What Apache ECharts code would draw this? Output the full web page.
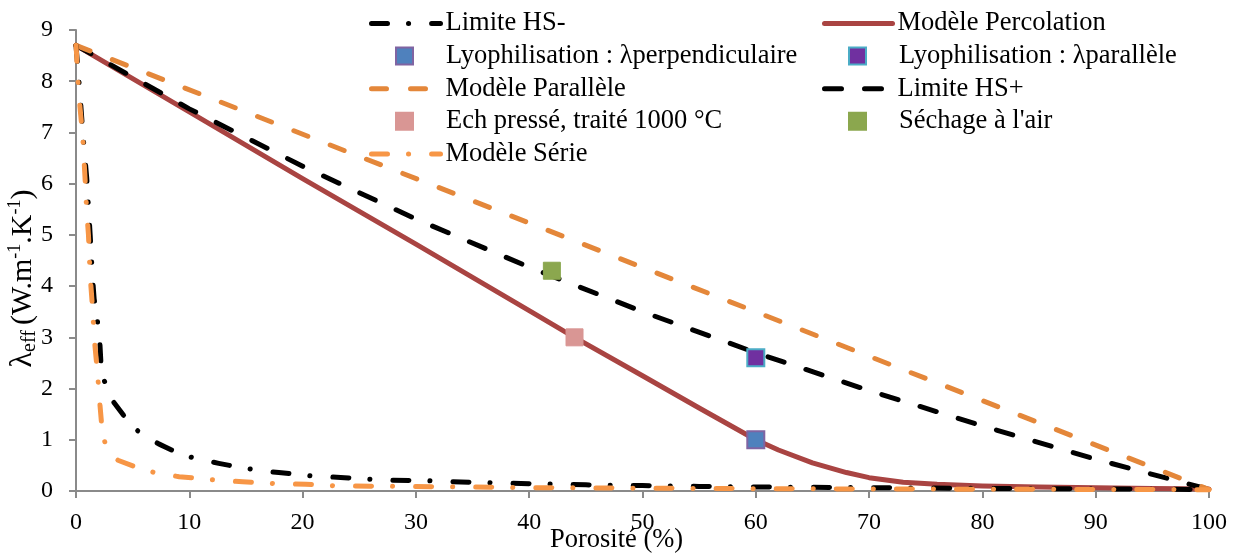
<!DOCTYPE html>
<html><head><meta charset="utf-8">
<script src="https://cdn.jsdelivr.net/npm/echarts@6/dist/echarts.min.js"></script>
<style>html,body{margin:0;padding:0;background:#fff}#c{width:1240px;height:554px}</style>
</head><body><div id="c"></div>
<script>
// ---- data ----
const xTickLabels = [0,10,20,30,40,50,60,70,80,90,100];
const yTickLabels = [0,1,2,3,4,5,6,7,8,9];

const limiteHSMoins = [[0,8.7],[0.3,7.9],[0.6,7.0],[0.95,6.1],[1.25,5.0],[1.45,4.2],[1.6,3.75],[1.85,3.4],[2.09,2.96],[2.2,2.5],[2.5,2.15],[3.24,1.76],[4.5,1.39],[5.6,1.14],[7.3,0.92],[9,0.74],[10.6,0.63],[12.6,0.54],[14.5,0.46],[16.2,0.4],[17.9,0.36],[21,0.29],[23.7,0.26],[27.4,0.21],[31,0.2],[35,0.17],[40.6,0.14],[45,0.12],[50,0.105],[55,0.09],[60,0.08],[70,0.065],[80,0.05],[90,0.04],[100,0.03]];
const modeleSerie = [[0,8.7],[0.06,8.5],[0.1,8.2],[0.2,7.93],[0.35,7.5],[0.6,6.9],[0.8,6.1],[0.95,5.45],[1.1,5.0],[1.25,4.2],[1.45,3.6],[1.62,2.96],[1.9,2.3],[2.1,1.72],[2.3,1.2],[2.6,0.9],[3.0,0.75],[3.7,0.6],[5.5,0.45],[7.1,0.35],[9.1,0.28],[12,0.22],[14.7,0.18],[17.5,0.145],[20.3,0.13],[23,0.1],[26,0.095],[31.5,0.085],[40,0.065],[50,0.055],[60,0.045],[70,0.04],[80,0.035],[90,0.03],[100,0.026]];
const modeleParallele = [[0,8.7],[100,0.03]];
const limiteHSPlus = [[0,8.7],[10,7.46],[20,6.34],[30,5.31],[40,4.37],[50,3.5],[60,2.7],[70,1.96],[80,1.27],[90,0.62],[100,0.03]];
const modelePercolation = [[0,8.7],[10,7.4],[20,6.1],[30,4.82],[40,3.52],[44,3.0],[50,2.25],[55,1.62],[60,1.0],[62,0.8],[65,0.55],[68,0.36],[70,0.26],[73,0.17],[76,0.13],[80,0.1],[85,0.08],[90,0.065],[95,0.05],[100,0.04]];
const lyoPerpendiculaire = [[60,1.0]];
const lyoParallele = [[60,2.6]];
const echPresse = [[44,3.0]];
const sechageAir = [[42,4.3]];

const FONT = '"Liberation Serif", "Times New Roman", serif';
const axisColor = '#8a8a8a';

const chart = echarts.init(document.getElementById('c'), null, {renderer:'canvas'});

function lineSeries(name, data, color, dash, z){
  return {type:'line', name, data, symbol:'none', showSymbol:false, z,
    lineStyle:{color, width:5, type:dash, cap:'round', join:'round'},
    itemStyle:{color}, emphasis:{disabled:true}};
}
function sq(name, data, fill, border, bw){
  return {type:'scatter', name, data, symbol:'rect', symbolSize:17, z:10,
    itemStyle:{color:fill, borderColor:border, borderWidth:bw, opacity:1}, emphasis:{disabled:true}};
}
const legText = {fontFamily:FONT, fontSize:26.5, lineHeight:27, color:'#000'};
const legTextSq = Object.assign({}, legText, {padding:[0,0,0,28]});
const rowGap = 32.6;
const top0 = 10;
const lineLegendExtra = {itemStyle:{opacity:0}, lineStyle:{width:5, cap:'round'}};

chart.setOption({
  animation:false,
  backgroundColor:'#fff',
  grid:{left:76, right:31, top:30, bottom:63, containLabel:false, outerBoundsMode:'none'},
  xAxis:{type:'value', min:0, max:100, interval:10,
    axisLine:{lineStyle:{color:axisColor, width:2}},
    axisTick:{length:7, lineStyle:{color:axisColor, width:2}},
    axisLabel:{fontFamily:FONT, fontSize:24, color:'#000', margin:20,
      formatter:v=>xTickLabels.includes(v)?String(v):''},
    splitLine:{show:false},
    name:'Porosité (%)', nameLocation:'middle', nameGap:36, nameMoveOverlap:false,
    nameTextStyle:{fontFamily:FONT, fontSize:26.5, color:'#000', padding:[0,52,0,0]}},
  yAxis:{type:'value', min:0, max:9, interval:1,
    axisLine:{show:true, lineStyle:{color:axisColor, width:2}},
    axisTick:{show:true, length:7, lineStyle:{color:axisColor, width:2}},
    axisLabel:{fontFamily:FONT, fontSize:24, color:'#000', margin:23,
      formatter:v=>yTickLabels.includes(v)?String(v):''},
    splitLine:{show:false},
    name:'{l|λ}{s|eff }{n|(W.m}{p|-1}{n|.K}{p|-1}{n|)}', nameLocation:'middle', nameRotate:90, nameGap:36, nameMoveOverlap:false,
    nameTextStyle:{fontFamily:FONT, fontSize:30, color:'#000', padding:[0,36,0,0],
      rich:{
        l:{fontFamily:FONT, fontSize:32, color:'#000', lineHeight:34},
        s:{fontFamily:FONT, fontSize:20, color:'#000', lineHeight:34, verticalAlign:'bottom'},
        n:{fontFamily:FONT, fontSize:30, color:'#000', lineHeight:34},
        p:{fontFamily:FONT, fontSize:18, color:'#000', lineHeight:34, verticalAlign:'top'}
      }}},
  legend:[
    Object.assign({orient:'vertical', left:369, top:top0, padding:0, itemWidth:69, itemHeight:14, itemGap:2*rowGap-27,
      selectedMode:false, textStyle:legText, data:['Limite HS-','Modèle Parallèle','Modèle Série']}, lineLegendExtra),
    {orient:'vertical', left:395, top:top0+rowGap, padding:0, itemWidth:17, itemHeight:17, itemGap:2*rowGap-27,
      selectedMode:false, textStyle:legTextSq, data:['Lyophilisation : λperpendiculaire','Ech pressé, traité 1000 °C']},
    Object.assign({orient:'vertical', left:822, top:top0, padding:0, itemWidth:68, itemHeight:14, itemGap:2*rowGap-27,
      selectedMode:false, textStyle:legText, data:['Modèle Percolation','Limite HS+']}, lineLegendExtra),
    {orient:'vertical', left:848, top:top0+rowGap, padding:0, itemWidth:17, itemHeight:17, itemGap:2*rowGap-27,
      selectedMode:false, textStyle:legTextSq, data:['Lyophilisation : λparallèle',"Séchage à l'air"]}
  ],
  series:[
    lineSeries('Modèle Percolation', modelePercolation, '#A94442', 'solid', 2),
    lineSeries('Limite HS+', limiteHSPlus, '#000000', [17,23], 3),
    lineSeries('Modèle Parallèle', modeleParallele, '#E4873A', [15,24], 3),
    lineSeries('Limite HS-', limiteHSMoins, '#000000', [16,21,0.1,23], 4),
    lineSeries('Modèle Série', modeleSerie, '#F79646', [16,21,0.1,23], 5),
    sq('Lyophilisation : λperpendiculaire', lyoPerpendiculaire, '#4F81BD', '#8064A2', 2),
    sq('Lyophilisation : λparallèle', lyoParallele, '#7030A0', '#4BACC6', 2),
    sq('Ech pressé, traité 1000 °C', echPresse, '#D99694', '#D99694', 1),
    sq("Séchage à l'air", sechageAir, '#8BA74E', '#8BA74E', 1)
  ]
});
</script></body></html>
